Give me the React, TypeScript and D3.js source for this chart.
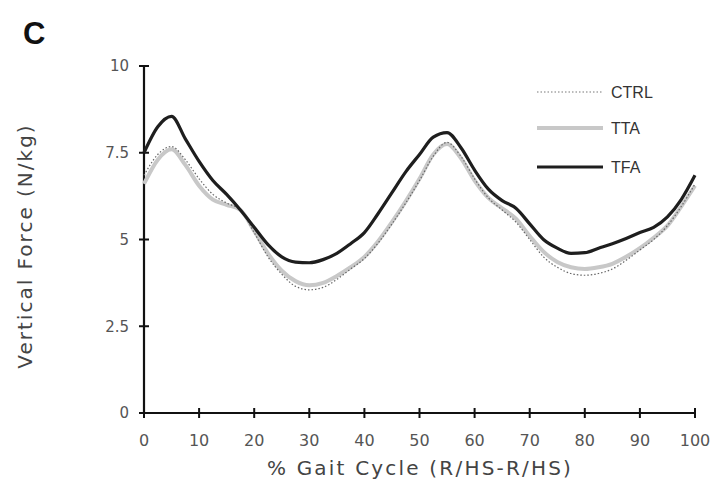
import React from 'react';
import * as d3 from 'd3';

// % gait cycle sample points
const pct = [0, 2.5, 5, 7.5, 10, 12.5, 15, 17.5, 20, 22.5, 25, 27.5, 30, 32.5, 35, 37.5, 40, 42.5, 45, 47.5, 50,
  52.5, 55, 57.5, 60, 62.5, 65, 67.5, 70, 72.5, 75, 77.5, 80, 82.5, 85, 87.5, 90, 92.5, 95, 97.5, 100];

// vertical force (N/kg) per group
const ctrl = [6.85, 7.45, 7.68, 7.3, 6.75, 6.3, 6.05, 5.85, 5.2, 4.5, 4.0, 3.65, 3.55, 3.62, 3.85, 4.15, 4.45, 4.9, 5.45, 6.05, 6.7,
  7.4, 7.8, 7.4, 6.75, 6.2, 5.85, 5.5, 5.0, 4.5, 4.2, 4.02, 3.97, 4.02, 4.15, 4.4, 4.7, 5.0, 5.4, 5.95, 6.6];
const tta = [6.6, 7.3, 7.6, 7.15, 6.55, 6.15, 6.0, 5.85, 5.25, 4.6, 4.1, 3.8, 3.68, 3.75, 3.95, 4.2, 4.5, 4.95, 5.5, 6.1, 6.75,
  7.45, 7.75, 7.35, 6.7, 6.2, 5.9, 5.6, 5.1, 4.65, 4.35, 4.2, 4.15, 4.2, 4.3, 4.5, 4.75, 5.05, 5.4, 5.95, 6.55];
const tfa = [7.5, 8.25, 8.55, 7.9, 7.25, 6.7, 6.3, 5.85, 5.35, 4.85, 4.5, 4.35, 4.33, 4.42, 4.6, 4.88, 5.2, 5.75, 6.35, 6.95, 7.45,
  7.95, 8.08, 7.65, 7.0, 6.45, 6.12, 5.9, 5.45, 5.0, 4.75, 4.6, 4.62, 4.75, 4.88, 5.03, 5.2, 5.35, 5.65, 6.15, 6.85];

const xTicks = [0, 10, 20, 30, 40, 50, 60, 70, 80, 90, 100];
const yTicks = [0, 2.5, 5, 7.5, 10];
const yTickLabels = ['0', '2.5', '5', '7.5', '10'];

const series = [
  { name: 'CTRL', values: ctrl, stroke: '#666', width: 1.2, dash: '1.5 2' },
  { name: 'TTA', values: tta, stroke: '#c8c8c8', width: 4, dash: '' },
  { name: 'TFA', values: tfa, stroke: '#1e1e1e', width: 3.2, dash: '' },
];
const drawOrder = [1, 0, 2];

export default function App() {
  const width = 716;
  const height = 488;
  const x = d3.scaleLinear().domain([0, 100]).range([144, 695]);
  const y = d3.scaleLinear().domain([0, 10]).range([413, 66]);
  const line = (vals: number[]) =>
    d3.line<number>().x((d, i) => x(pct[i])).y(d => y(d)).curve(d3.curveMonotoneX)(vals) || '';
  const font = 'Arial, "Liberation Sans", sans-serif';
  const wide = '"DejaVu Sans", Verdana, sans-serif';

  return (
    <svg width={width} height={height} style={{ position: 'absolute', left: 0, top: 0, background: '#fff' }}
      fontFamily={font}>
      <text x={23} y={44} fontSize={31} fontWeight="bold" fill="#111">C</text>

      {/* axes */}
      <line x1={x(0)} x2={x(0)} y1={y(0)} y2={y(10)} stroke="#111" strokeWidth={2.2} />
      <line x1={x(0)} x2={x(100)} y1={y(0)} y2={y(0)} stroke="#111" strokeWidth={2.2} />
      {yTicks.map((t, i) => (
        <g key={'y' + i}>
          <line x1={x(0) - 5} x2={x(0) + 5} y1={y(t)} y2={y(t)} stroke="#111" strokeWidth={2} />
          <text x={129} y={y(t)} dy="0.35em" textAnchor="end" fontSize={15} fill="#555"
            fontFamily={wide}>{yTickLabels[i]}</text>
        </g>
      ))}
      {xTicks.map(t => (
        <g key={'x' + t}>
          <line x1={x(t)} x2={x(t)} y1={y(0) - 5} y2={y(0) + 5} stroke="#111" strokeWidth={2} />
          <text x={x(t)} y={440} dy="0.35em" textAnchor="middle" fontSize={16} fill="#555"
            fontFamily={wide}>{t}</text>
        </g>
      ))}

      <text transform="translate(32,246) rotate(-90)" textAnchor="middle" fontSize={20} fill="#444"
        fontFamily={wide} letterSpacing={2}>Vertical Force (N/kg)</text>
      <text x={420} y={475} textAnchor="middle" fontSize={20} fill="#444" fontFamily={wide} letterSpacing={2.2}>
        % Gait Cycle (R/HS-R/HS)
      </text>

      {/* lines */}
      {drawOrder.map(k => {
        const s = series[k];
        return (
          <path key={s.name} d={line(s.values)} fill="none" stroke={s.stroke} strokeWidth={s.width}
            strokeDasharray={s.dash || undefined} strokeLinejoin="round" />
        );
      })}

      {/* legend */}
      {series.map((s, i) => {
        const ly = [92, 128, 167][i];
        return (
          <g key={'lg' + s.name}>
            <line x1={537} x2={603} y1={ly} y2={ly} stroke={legendStroke(s.name, s.stroke)}
              strokeWidth={s.name === 'CTRL' ? 2 : s.width} strokeDasharray={s.dash || undefined} />
            <text x={611} y={ly} dy="0.35em" fontSize={16} fill="#333">{s.name}</text>
          </g>
        );
      })}
    </svg>
  );
}

function legendStroke(name: string, stroke: string) {
  return name === 'CTRL' ? '#bbb' : stroke;
}
